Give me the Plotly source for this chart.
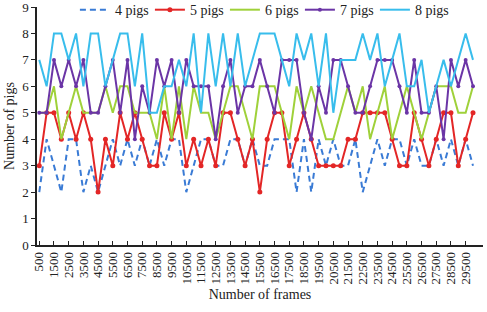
import plotly.graph_objects as go

frames = [500 * (i + 1) for i in range(60)]
tick_frames = [500 + 1000 * k for k in range(30)]
tick_labels = [str(v) for v in tick_frames]

pigs4 = [2, 4, 3, 2, 4, 4, 2, 3, 2, 3, 4, 3, 4, 3, 4, 3, 4, 3, 4, 4,
         2, 3, 4, 4, 3, 3, 4, 4, 3, 4, 3, 3, 4, 4, 4, 2, 4, 2, 4, 3,
         4, 3, 3, 4, 2, 3, 4, 3, 4, 4, 3, 4, 3, 3, 4, 3, 4, 3, 4, 3]
pigs5 = [3, 5, 5, 4, 5, 4, 5, 4, 2, 4, 3, 5, 4, 5, 4, 3, 3, 5, 4, 5,
         3, 4, 3, 4, 3, 5, 5, 4, 3, 4, 2, 4, 5, 5, 3, 4, 5, 4, 3, 3,
         3, 3, 4, 4, 5, 5, 5, 5, 4, 3, 3, 5, 4, 3, 4, 5, 5, 3, 4, 5]
pigs6 = [5, 5, 6, 4, 5, 6, 5, 5, 5, 6, 5, 6, 6, 5, 5, 5, 4, 6, 4, 6,
         4, 6, 5, 5, 4, 5, 6, 6, 5, 4, 6, 6, 6, 5, 4, 6, 5, 6, 5, 4,
         4, 5, 6, 5, 6, 4, 5, 6, 4, 5, 6, 5, 4, 5, 6, 6, 6, 5, 5, 6]
pigs7 = [5, 5, 7, 6, 7, 6, 7, 5, 5, 6, 7, 5, 7, 4, 6, 5, 7, 6, 7, 5,
         7, 6, 6, 6, 4, 6, 7, 5, 6, 6, 7, 6, 5, 7, 7, 7, 5, 4, 6, 5,
         7, 7, 6, 5, 5, 6, 7, 7, 7, 6, 5, 7, 5, 5, 6, 4, 7, 6, 7, 6]
pigs8 = [7, 6, 8, 8, 7, 8, 6, 8, 8, 6, 7, 8, 8, 6, 8, 5, 5, 6, 6, 7,
         6, 8, 5, 8, 6, 8, 6, 8, 6, 7, 8, 8, 8, 7, 6, 8, 7, 8, 6, 8,
         5, 7, 7, 7, 8, 7, 8, 6, 7, 8, 6, 6, 7, 5, 6, 7, 6, 7, 8, 7]

series = [
    ("4 pigs", pigs4, "#3a7bd5", "6px,4px", None),
    ("5 pigs", pigs5, "#e32626", "solid", "circle"),
    ("6 pigs", pigs6, "#9fd13a", "solid", None),
    ("7 pigs", pigs7, "#6b35a6", "solid", "circle"),
    ("8 pigs", pigs8, "#38bdec", "solid", None),
]

fig = go.Figure()
for name, vals, color, dash, sym in series:
    mode = "lines+markers" if sym else "lines"
    fig.add_trace(go.Scatter(
        x=frames, y=vals, name=name, mode=mode,
        line=dict(color=color, width=2, dash=dash),
        marker=dict(symbol=sym or "circle", size=5 if name == "5 pigs" else 4, color=color),
    ))

font_family = "Liberation Serif, Times New Roman, serif"
fig.update_layout(
    width=487, height=312,
    margin=dict(l=37, r=4, t=7, b=67, autoexpand=False),
    paper_bgcolor="white", plot_bgcolor="white",
    font=dict(family=font_family, size=13, color="#222"),
    showlegend=True,
    legend=dict(orientation="h", x=0.085, xanchor="left", y=0.987, yanchor="middle",
                font=dict(size=14, family=font_family), itemwidth=30,
                entrywidth=30, bgcolor="rgba(255,255,255,0)", tracegroupgap=0),
)
fig.update_xaxes(
    range=[345, 30680], tickvals=tick_frames, ticktext=tick_labels,
    tickangle=-90, ticks="inside", ticklen=4, tickcolor="#222",
    showline=True, linecolor="#222", linewidth=1.5, showgrid=False, zeroline=False,
    tickfont=dict(size=13, family=font_family),
    title=dict(text="Number of frames", font=dict(size=14, family=font_family), standoff=6),
)
fig.update_yaxes(
    range=[0, 9], dtick=1, ticks="outside", ticklen=4, tickcolor="#222",
    showline=True, linecolor="#222", linewidth=1.5, showgrid=False, zeroline=False,
    tickfont=dict(size=13, family=font_family), ticklabeloverflow="allow",
    title=dict(text="Number of pigs", font=dict(size=14, family=font_family), standoff=4),
)
fig.write_html("out.html")
